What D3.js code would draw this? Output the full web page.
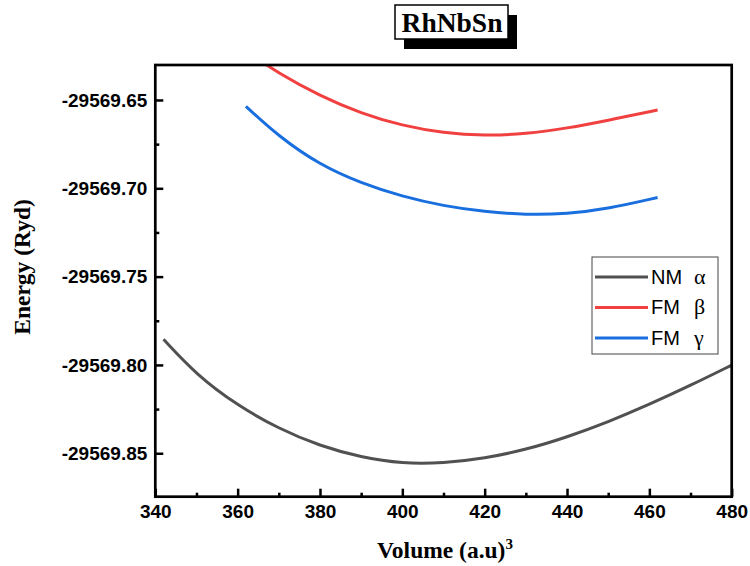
<!DOCTYPE html>
<html>
<head>
<meta charset="utf-8">
<script src="https://cdn.jsdelivr.net/npm/d3@7"></script>
<style>
  body { margin: 0; background: #fff; }
</style>
</head>
<body>
<svg id="drawing_region"></svg>
<script>
// values
const volumeNM = [342, 350, 360, 370, 380, 390, 400, 410, 420, 430, 440, 450, 460, 470, 480];
const energyNM = [-29569.7855, -29569.8056, -29569.8230, -29569.8361, -29569.8459, -29569.8523, -29569.8559,
                  -29569.8556, -29569.8529, -29569.8480, -29569.8409, -29569.8323, -29569.8224, -29569.8116, -29569.8001];

const volumeFM = [362, 370, 380, 390, 400, 410, 420, 430, 440, 450, 462];
const energyBeta = [-29569.6223, -29569.6350, -29569.6477, -29569.6576, -29569.6646, -29569.6687,
                    -29569.6702, -29569.6693, -29569.6660, -29569.6615, -29569.6557];
const energyGamma = [-29569.6536, -29569.6707, -29569.6868, -29569.6971, -29569.7047, -29569.7100,
                     -29569.7133, -29569.7150, -29569.7145, -29569.7116, -29569.7052];

const seriesNames = ['NM α', 'FM β', 'FM γ'];
const seriesColors = ['#515151', '#F14040', '#1A6FDF'];

const xTicks = [340, 360, 380, 400, 420, 440, 460, 480];
const xMinorTicks = [350, 370, 390, 410, 430, 450, 470];
const yTicks = [-29569.65, -29569.70, -29569.75, -29569.80, -29569.85];
const yMinorTicks = [-29569.675, -29569.725, -29569.775, -29569.825];
const xDomain = [340, 480];
const yDomain = [-29569.8746, -29569.6302];

class EnergyChart {

    constructor(config, series) {
        this.config = config;
        this.series = series;
        this.init();
    }

    init() {
        let self = this;
        self.svg = d3.select(self.config.parent)
            .attr('width', self.config.width)
            .attr('height', self.config.height);

        self.inner_width = self.config.width - self.config.margin.left - self.config.margin.right;
        self.inner_height = self.config.height - self.config.margin.top - self.config.margin.bottom;

        self.chart = self.svg.append('g')
            .attr('transform', `translate(${self.config.margin.left}, ${self.config.margin.top})`);

        self.xscale = d3.scaleLinear()
            .domain(xDomain)
            .range([0, self.inner_width]);

        self.yscale = d3.scaleLinear()
            .domain(yDomain)
            .range([self.inner_height, 0]);

        self.line = d3.line()
            .x(d => self.xscale(d.v))
            .y(d => self.yscale(d.e))
            .curve(d3.curveBasis);
    }

    render() {
        let self = this;
        const tickFont = '"Liberation Sans", Arial, sans-serif';
        const serif = '"Liberation Serif", "Times New Roman", serif';

        // title with shadow box
        const title = self.svg.append('g');
        title.append('rect')
            .attr('x', 404).attr('y', 15).attr('width', 113).attr('height', 34)
            .attr('fill', '#000');
        title.append('rect')
            .attr('x', 395).attr('y', 5).attr('width', 113).attr('height', 34)
            .attr('fill', '#fff').attr('stroke', '#000').attr('stroke-width', 1.5);
        title.append('text')
            .attr('x', 452).attr('y', 32)
            .attr('text-anchor', 'middle')
            .attr('font-family', serif).attr('font-weight', 'bold').attr('font-size', 27.5)
            .text('RhNbSn');

        // axes
        const xaxis = d3.axisBottom(self.xscale).tickValues(xTicks).tickSize(-8).tickPadding(8);
        const yaxis = d3.axisLeft(self.yscale).tickValues(yTicks).tickSize(-8).tickPadding(8)
            .tickFormat(d => d.toFixed(2));

        const xg = self.chart.append('g')
            .attr('transform', `translate(0, ${self.inner_height})`)
            .call(xaxis);
        const yg = self.chart.append('g').call(yaxis);

        self.chart.append('g')
            .attr('transform', `translate(0, ${self.inner_height})`)
            .call(d3.axisBottom(self.xscale).tickValues(xMinorTicks).tickSize(-4).tickFormat(''));
        self.chart.append('g')
            .call(d3.axisLeft(self.yscale).tickValues(yMinorTicks).tickSize(-4).tickFormat(''));

        self.chart.selectAll('.domain').remove();
        self.chart.selectAll('.tick line').attr('stroke', '#000').attr('stroke-width', 2.5);
        [xg, yg].forEach(g => g.selectAll('text')
            .attr('font-family', tickFont)
            .attr('font-weight', 'bold')
            .attr('font-size', 19)
            .attr('fill', '#000'));

        // curves
        self.svg.append('defs').append('clipPath').attr('id', 'plot-clip')
            .append('rect').attr('width', self.inner_width).attr('height', self.inner_height);

        const curves = self.chart.append('g').attr('clip-path', 'url(#plot-clip)');
        curves.selectAll('path')
            .data(self.series)
            .join('path')
            .attr('d', s => self.line(s.values))
            .attr('fill', 'none')
            .attr('stroke', s => s.color)
            .attr('stroke-width', 3);

        // frame
        self.chart.append('rect')
            .attr('width', self.inner_width).attr('height', self.inner_height)
            .attr('fill', 'none').attr('stroke', '#000').attr('stroke-width', 2.7);

        // axis titles
        self.svg.append('text')
            .attr('transform', 'translate(30, 267) rotate(-90)')
            .attr('text-anchor', 'middle')
            .attr('font-family', serif).attr('font-weight', 'bold').attr('font-size', 23.5)
            .text('Energy (Ryd)');

        const xt = self.svg.append('text')
            .attr('x', 445).attr('y', 558)
            .attr('text-anchor', 'middle')
            .attr('font-family', serif).attr('font-weight', 'bold').attr('font-size', 23.5);
        xt.append('tspan').text('Volume (a.u)');
        xt.append('tspan').attr('dy', -9).attr('font-size', 15).text('3');

        // legend
        const legend = self.svg.append('g').attr('transform', 'translate(592, 257)');
        legend.append('rect')
            .attr('width', 126).attr('height', 97)
            .attr('fill', '#fff').attr('stroke', '#444').attr('stroke-width', 1);
        const item = legend.selectAll('g.item')
            .data(self.series)
            .join('g')
            .attr('class', 'item')
            .attr('transform', (d, i) => `translate(0, ${20 + i * 30.5})`);
        item.append('line')
            .attr('x1', 3).attr('x2', 56)
            .attr('stroke', d => d.color).attr('stroke-width', 3);
        item.append('text')
            .attr('x', 59).attr('y', 6.5)
            .attr('font-family', tickFont).attr('font-size', 20)
            .text(d => d.name.split(' ')[0]);
        item.append('text')
            .attr('x', 102).attr('y', 6.5)
            .attr('font-family', serif).attr('font-size', 22)
            .text(d => d.name.split(' ')[1]);
    }
}

const series = [
    { name: seriesNames[0], color: seriesColors[0], values: volumeNM.map((v, i) => ({ v: v, e: energyNM[i] })) },
    { name: seriesNames[1], color: seriesColors[1], values: volumeFM.map((v, i) => ({ v: v, e: energyBeta[i] })) },
    { name: seriesNames[2], color: seriesColors[2], values: volumeFM.map((v, i) => ({ v: v, e: energyGamma[i] })) }
];

const chart = new EnergyChart({
    parent: '#drawing_region',
    width: 750,
    height: 566,
    margin: { top: 65, right: 18.3, bottom: 69.3, left: 155.3 }
}, series);
chart.render();
</script>
</body>
</html>
